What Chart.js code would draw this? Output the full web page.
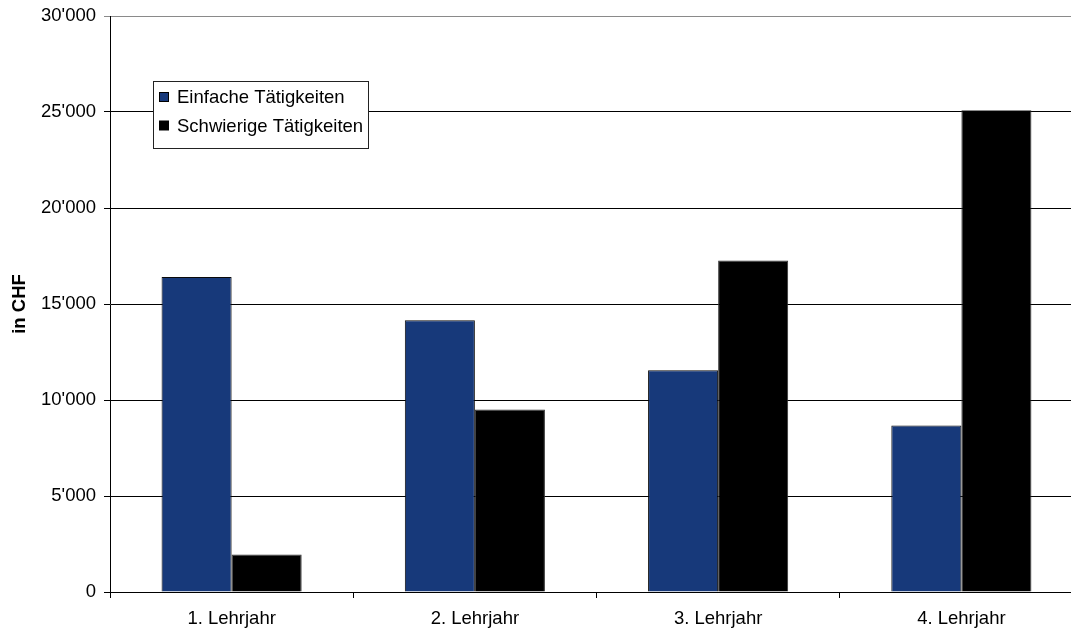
<!DOCTYPE html>
<html lang="de">
<head>
<meta charset="utf-8">
<title>Lohn nach Lehrjahr</title>
<script src="https://cdn.jsdelivr.net/npm/chart.js@4.4.1/dist/chart.umd.min.js"></script>
<style>
  html, body { margin: 0; padding: 0; background: #fff; overflow: hidden; }
  #wrap { width: 1083px; height: 630px; }
</style>
</head>
<body>
<div id="wrap"><canvas id="c" width="1083" height="630"></canvas></div>
<script>
// Kategorien und Werte (CHF)
const categories = ['1. Lehrjahr', '2. Lehrjahr', '3. Lehrjahr', '4. Lehrjahr'];
const seriesNames = ['Einfache Tätigkeiten', 'Schwierige Tätigkeiten'];
const einfache = [16400, 14150, 11550, 8670];
const schwierige = [1950, 9500, 17260, 25090];
const yMin = 0;
const yMax = 30000;
const yStep = 5000;
const yTitle = 'in CHF';

const FONT = "'Liberation Sans', Arial, Helvetica, sans-serif";

// Tausendertrennzeichen im Schweizer Stil: 30'000
function chf(v) {
  return String(Math.round(v)).replace(/\B(?=(\d{3})+(?!\d))/g, "'");
}

// Legende als Kasten innerhalb der Zeichenfläche
const boxedLegend = {
  id: 'boxedLegend',
  afterDraw(chart) {
    const ctx = chart.ctx;
    const a = chart.chartArea;
    const x = a.left + 43, y = a.top + 65, w = 215, h = 67;
    ctx.save();
    ctx.fillStyle = '#fff';
    ctx.fillRect(x, y, w, h);
    ctx.strokeStyle = '#222';
    ctx.lineWidth = 1;
    ctx.strokeRect(x + 0.5, y + 0.5, w, h);
    ctx.font = '18.5px ' + FONT;
    ctx.textBaseline = 'middle';
    ctx.textAlign = 'left';
    chart.data.datasets.forEach((ds, i) => {
      const cy = y + 16 + i * 28.5;
      ctx.fillStyle = ds.backgroundColor;
      ctx.fillRect(x + 6.5, cy - 4.5, 9, 9);
      ctx.strokeStyle = '#000';
      ctx.strokeRect(x + 6.5, cy - 4.5, 9, 9);
      ctx.fillStyle = '#000';
      ctx.fillText(ds.label, x + 24, cy + 1);
    });
    ctx.restore();
  }
};

new Chart(document.getElementById('c'), {
  type: 'bar',
  data: {
    labels: categories,
    datasets: [
      {
        label: seriesNames[0],
        data: einfache,
        backgroundColor: '#17397a',
        borderColor: '#0a0a0a',
        borderWidth: 1
      },
      {
        label: seriesNames[1],
        data: schwierige,
        backgroundColor: '#000000',
        borderColor: '#333',
        borderWidth: 1
      }
    ]
  },
  options: {
    responsive: false,
    animation: false,
    devicePixelRatio: 1,
    layout: { padding: { top: 16, left: 0, right: 0, bottom: 0 } },
    categoryPercentage: 0.576,
    barPercentage: 1.0,
    plugins: {
      legend: { display: false },
      tooltip: { enabled: false }
    },
    scales: {
      x: {
        offset: true,
        grid: {
          offset: true,
          drawOnChartArea: false,
          drawTicks: true,
          tickLength: 6,
          color: '#000'
        },
        border: { display: true, color: '#000', width: 1 },
        ticks: {
          color: '#000',
          font: { family: FONT, size: 18.5 },
          padding: 10,
          maxRotation: 0
        },
        afterFit(scale) { scale.height = 38; }
      },
      y: {
        min: yMin,
        max: yMax,
        grid: {
          color: (c) => (c.tick && c.tick.value === yMax ? '#8a8a8a' : '#000'),
          drawTicks: true,
          tickLength: 6,
          lineWidth: 1
        },
        border: { display: true, color: '#000', width: 1 },
        ticks: {
          stepSize: yStep,
          color: '#000',
          font: { family: FONT, size: 18.5, lineHeight: 1.0 },
          padding: 8,
          callback: (v) => chf(v)
        },
        title: {
          display: true,
          text: yTitle,
          color: '#000',
          font: { family: FONT, size: 18.5, weight: 'bold' },
          padding: { top: 9, bottom: 0 }
        },
        afterFit(scale) {
          scale.width = 110;
          scale.paddingTop = 0;
          scale.paddingBottom = 0;
        }
      }
    }
  },
  plugins: [boxedLegend]
});
</script>
</body>
</html>
